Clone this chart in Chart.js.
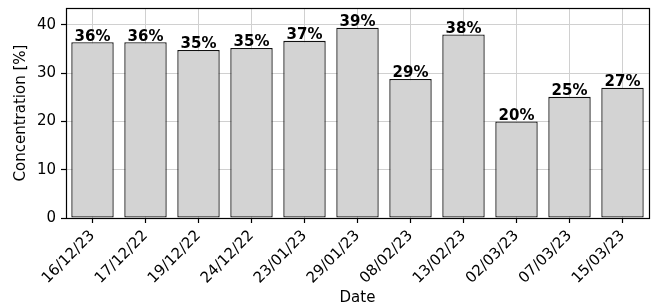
<!DOCTYPE html>
<html lang="en">
<head>
    <meta charset="UTF-8">
    <title>Concentration by date</title>
    <script src="https://cdn.jsdelivr.net/npm/chart.js"></script>
    <style>
        html, body { margin: 0; padding: 0; background: #fff; }
        #wrap { width: 654px; height: 308px; }
    </style>
</head>
<body>
    <div id="wrap"><canvas id="chart" width="654" height="308"></canvas></div>
    <script>
        const dates = ['16/12/23', '17/12/22', '19/12/22', '24/12/22', '23/01/23', '29/01/23',
                       '08/02/23', '13/02/23', '02/03/23', '07/03/23', '15/03/23'];
        const concentration = [36.4, 36.4, 34.8, 35.2, 36.7, 39.4, 28.8, 38.0, 20.0, 25.1, 27.0];
        const yTicks = [0, 10, 20, 30, 40];

        const FONT = 'DejaVu Sans';
        const SIZE = 15;

        // bold value labels on top of each bar, plus the closed axes frame
        const barLabels = {
            id: 'barLabels',
            afterDatasetsDraw(chart) {
                const ctx = chart.ctx;
                const meta = chart.getDatasetMeta(0);
                ctx.save();
                ctx.font = 'bold ' + SIZE + 'px ' + FONT;
                ctx.fillStyle = '#000';
                ctx.textAlign = 'center';
                ctx.textBaseline = 'bottom';
                meta.data.forEach((bar, i) => {
                    ctx.fillText(Math.round(concentration[i]) + '%', bar.x, bar.y + 2);
                });
                ctx.restore();
            },
            afterDraw(chart) {
                const a = chart.chartArea;
                const ctx = chart.ctx;
                ctx.save();
                ctx.strokeStyle = '#000';
                ctx.lineWidth = 1.2;
                ctx.strokeRect(Math.round(a.left) + 0.5, Math.round(a.top) + 0.5,
                               Math.round(a.right - a.left), Math.round(a.bottom - a.top));
                ctx.restore();
            }
        };

        new Chart(document.getElementById('chart'), {
            type: 'bar',
            data: {
                labels: dates,
                datasets: [{
                    data: concentration,
                    backgroundColor: '#d3d3d3',
                    borderColor: '#111',
                    borderWidth: 1.3,
                    borderSkipped: false,
                    categoryPercentage: 1.0,
                    barPercentage: 0.8
                }]
            },
            options: {
                responsive: false,
                animation: false,
                devicePixelRatio: 1,
                layout: { padding: { top: 8, right: 5, left: 0, bottom: 0 } },
                plugins: {
                    legend: { display: false },
                    tooltip: { enabled: false }
                },
                scales: {
                    x: {
                        grid: {
                            offset: false,
                            color: '#d0d0d0',
                            tickColor: '#000',
                            tickLength: 5,
                            tickWidth: 1.2
                        },
                        border: { display: false },
                        ticks: {
                            color: '#000',
                            font: { family: FONT, size: SIZE },
                            maxRotation: 45,
                            minRotation: 45,
                            padding: 4
                        },
                        title: {
                            display: true,
                            text: 'Date',
                            color: '#000',
                            font: { family: FONT, size: SIZE },
                            padding: { top: 2, bottom: 1 }
                        },
                        afterFit(scale) {
                            scale.height = 90;
                            scale.paddingLeft = 0;
                            scale.paddingRight = 0;
                        }
                    },
                    y: {
                        min: 0,
                        max: 43.5,
                        afterBuildTicks(scale) {
                            scale.ticks = yTicks.map(v => ({ value: v }));
                        },
                        grid: {
                            color: '#d0d0d0',
                            tickColor: '#000',
                            tickLength: 5,
                            tickWidth: 1.2
                        },
                        border: { display: false },
                        ticks: {
                            color: '#000',
                            font: { family: FONT, size: SIZE },
                            padding: 5
                        },
                        title: {
                            display: true,
                            text: 'Concentration [%]',
                            color: '#000',
                            font: { family: FONT, size: SIZE },
                            padding: { top: 12, bottom: 4 }
                        },
                        afterFit(scale) {
                            scale.width = 66;
                            scale.paddingTop = 0;
                            scale.paddingBottom = 0;
                        }
                    }
                }
            },
            plugins: [barLabels]
        });
    </script>
</body>
</html>
